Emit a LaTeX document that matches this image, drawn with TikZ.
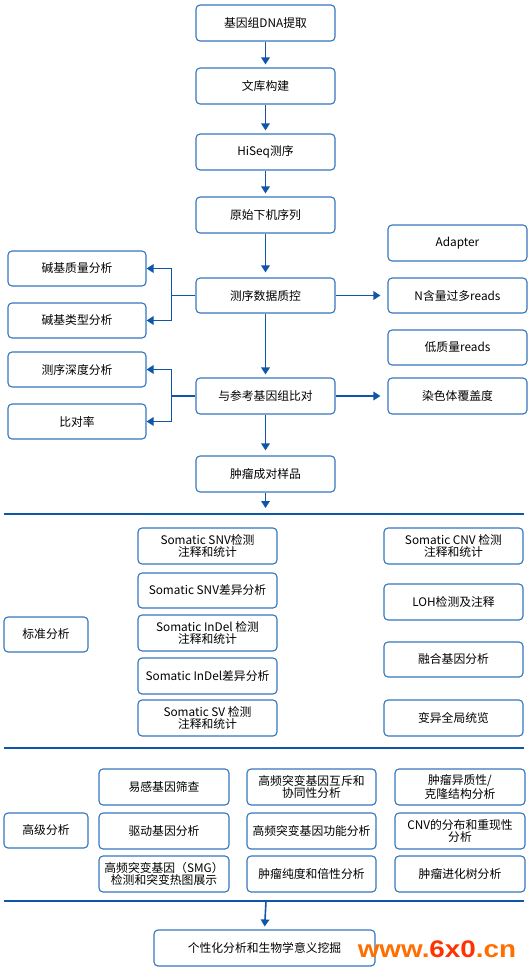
\documentclass[tikz,border=0pt]{standalone}
\usepackage{fontspec}
\setmainfont{Noto Sans CJK SC}
\newfontfamily\wmfont{Liberation Sans}
\usetikzlibrary{arrows.meta}
\definecolor{boxblue}{RGB}{52,118,190}
\definecolor{linblue}{RGB}{16,86,168}
\definecolor{wmorange}{RGB}{255,110,0}
\definecolor{wmred}{RGB}{255,50,0}
\tikzset{
  bx/.style={draw=boxblue, line width=1.1pt, rounded corners=4pt, fill=white,
    align=center, inner sep=1pt, font=\fontsize{11.8}{11.8}\selectfont},
  conn/.style={draw=linblue, line width=1.6pt},
  arr/.style={conn, -{Triangle[length=7pt,width=8.5pt]}},
  sep/.style={draw=linblue, line width=1.8pt}
}
\begin{document}
\begin{tikzpicture}[x=1pt,y=-1pt]
\useasboundingbox (0,0) rectangle (530,972);
% main column
\node[bx, minimum width=139pt, minimum height=36pt] (n1) at (265.5,23) {基因组DNA提取};
\node[bx, minimum width=139pt, minimum height=36pt] (n2) at (265.5,86) {文库构建};
\node[bx, minimum width=139pt, minimum height=36pt] (n3) at (265.5,152) {HiSeq测序};
\node[bx, minimum width=139pt, minimum height=36pt] (n4) at (265.5,215) {原始下机序列};
\node[bx, minimum width=139pt, minimum height=35pt] (n5) at (265.5,295.5) {测序数据质控};
\node[bx, minimum width=139pt, minimum height=36pt] (n6) at (265.5,396) {与参考基因组比对};
\node[bx, minimum width=139pt, minimum height=36pt] (n7) at (265.5,474) {肿瘤成对样品};
% left
\node[bx, minimum width=138pt, minimum height=35pt] (l1) at (77,268.5) {碱基质量分析};
\node[bx, minimum width=138pt, minimum height=35pt] (l2) at (77,320.5) {碱基类型分析};
\node[bx, minimum width=138pt, minimum height=35pt] (l3) at (77,369.5) {测序深度分析};
\node[bx, minimum width=138pt, minimum height=35pt] (l4) at (77,421.5) {比对率};
% right
\node[bx, minimum width=139pt, minimum height=36pt] (r1) at (457.5,243) {Adapter};
\node[bx, minimum width=139pt, minimum height=35pt] (r2) at (457.5,295.5) {N含量过多reads};
\node[bx, minimum width=139pt, minimum height=35pt] (r3) at (457.5,347.5) {低质量reads};
\node[bx, minimum width=139pt, minimum height=36pt] (r4) at (457.5,396) {染色体覆盖度};
% arrows top
\draw[arr, shorten >=3pt] (n1) -- (n2);
\draw[arr, shorten >=3pt] (n2) -- (n3);
\draw[arr, shorten >=3pt] (n3) -- (n4);
\draw[arr, shorten >=5pt] (n4) -- (n5);
\draw[arr, shorten >=3pt] (n5) -- (n6);
\draw[arr, shorten >=5pt] (n6) -- (n7);
\draw[arr] (n5.west) -- ++(-24,0) |- (l1.east);
\draw[arr] (n5.west) -- ++(-24,0) |- (l2.east);
\draw[arr] (n6.west) -- ++(-24,0) |- (l3.east);
\draw[arr] (n6.west) -- ++(-24,0) |- (l4.east);
\draw[arr, shorten >=7pt] (n5) -- (r2);
\draw[arr, shorten >=7pt] (n6) -- (r4);
% separator 1
\coordinate (s1a) at (4,514);
\coordinate (s1b) at (524,514);
\coordinate (s1m) at (265.5,514);
\draw[sep] (s1a) -- (s1b);
\draw[arr, shorten >=6pt] (n7) -- (s1m);
% standard analysis
\node[bx, minimum width=84pt, minimum height=35pt] (std) at (46,634.5) {标准分析};
\node[bx, minimum width=139pt, minimum height=36pt] (m1) at (207.5,546) {Somatic SNV检测\\注释和统计};
\node[bx, minimum width=139pt, minimum height=35pt] (m2) at (207.5,590.5) {Somatic SNV差异分析};
\node[bx, minimum width=139pt, minimum height=36pt] (m3) at (207.5,633) {Somatic InDel 检测\\注释和统计};
\node[bx, minimum width=139pt, minimum height=36pt] (m4) at (207.5,676) {Somatic InDel差异分析};
\node[bx, minimum width=139pt, minimum height=36pt] (m5) at (207.5,718) {Somatic SV 检测\\注释和统计};
\node[bx, minimum width=139pt, minimum height=36pt] (q1) at (453.5,546) {Somatic CNV 检测\\注释和统计};
\node[bx, minimum width=139pt, minimum height=36pt] (q2) at (453.5,602) {LOH检测及注释};
\node[bx, minimum width=139pt, minimum height=35pt] (q3) at (453.5,659.5) {融合基因分析};
\node[bx, minimum width=139pt, minimum height=36pt] (q4) at (453.5,718) {变异全局统览};
% separator 2
\coordinate (s2a) at (4,748);
\coordinate (s2b) at (524,748);
\draw[sep] (s2a) -- (s2b);
% advanced analysis
\node[bx, minimum width=84pt, minimum height=35pt] (adv) at (46,830.5) {高级分析};
\node[bx, minimum width=130pt, minimum height=36pt] (a1) at (164,787) {易感基因筛查};
\node[bx, minimum width=130pt, minimum height=36pt] (a2) at (164,831) {驱动基因分析};
\node[bx, minimum width=130pt, minimum height=36pt] (a3) at (164,874) {高频突变基因（SMG）\\检测和突变热图展示};
\node[bx, minimum width=129pt, minimum height=36pt] (b1) at (311.5,787) {高频突变基因互斥和\\协同性分析};
\node[bx, minimum width=129pt, minimum height=36pt] (b2) at (311.5,831) {高频突变基因功能分析};
\node[bx, minimum width=129pt, minimum height=36pt] (b3) at (311.5,874) {肿瘤纯度和倍性分析};
\node[bx, minimum width=130pt, minimum height=36pt] (c1) at (460,787) {肿瘤异质性/\\克隆结构分析};
\node[bx, minimum width=130pt, minimum height=36pt] (c2) at (460,831) {CNV的分布和重现性\\分析};
\node[bx, minimum width=130pt, minimum height=36pt] (c3) at (460,874) {肿瘤进化树分析};
% separator 3
\coordinate (s3a) at (4,901);
\coordinate (s3b) at (524,901);
\coordinate (s3m) at (266,901);
\draw[sep] (s3a) -- (s3b);
\node[bx, minimum width=221pt, minimum height=36pt] (fin) at (264.5,948) {个性化分析和生物学意义挖掘};
\draw[arr, shorten >=3pt] (s3m) -- (fin.north);
% watermark
\node[inner sep=0pt, font=\wmfont\bfseries\fontsize{24}{24}\selectfont] (wm) at (437,949)
  {\scalebox{1.16}[1]{\textcolor{wmorange}{www.}\textcolor{wmred}{6x0}\textcolor{wmorange}{.cn}}};
\end{tikzpicture}
\end{document}
